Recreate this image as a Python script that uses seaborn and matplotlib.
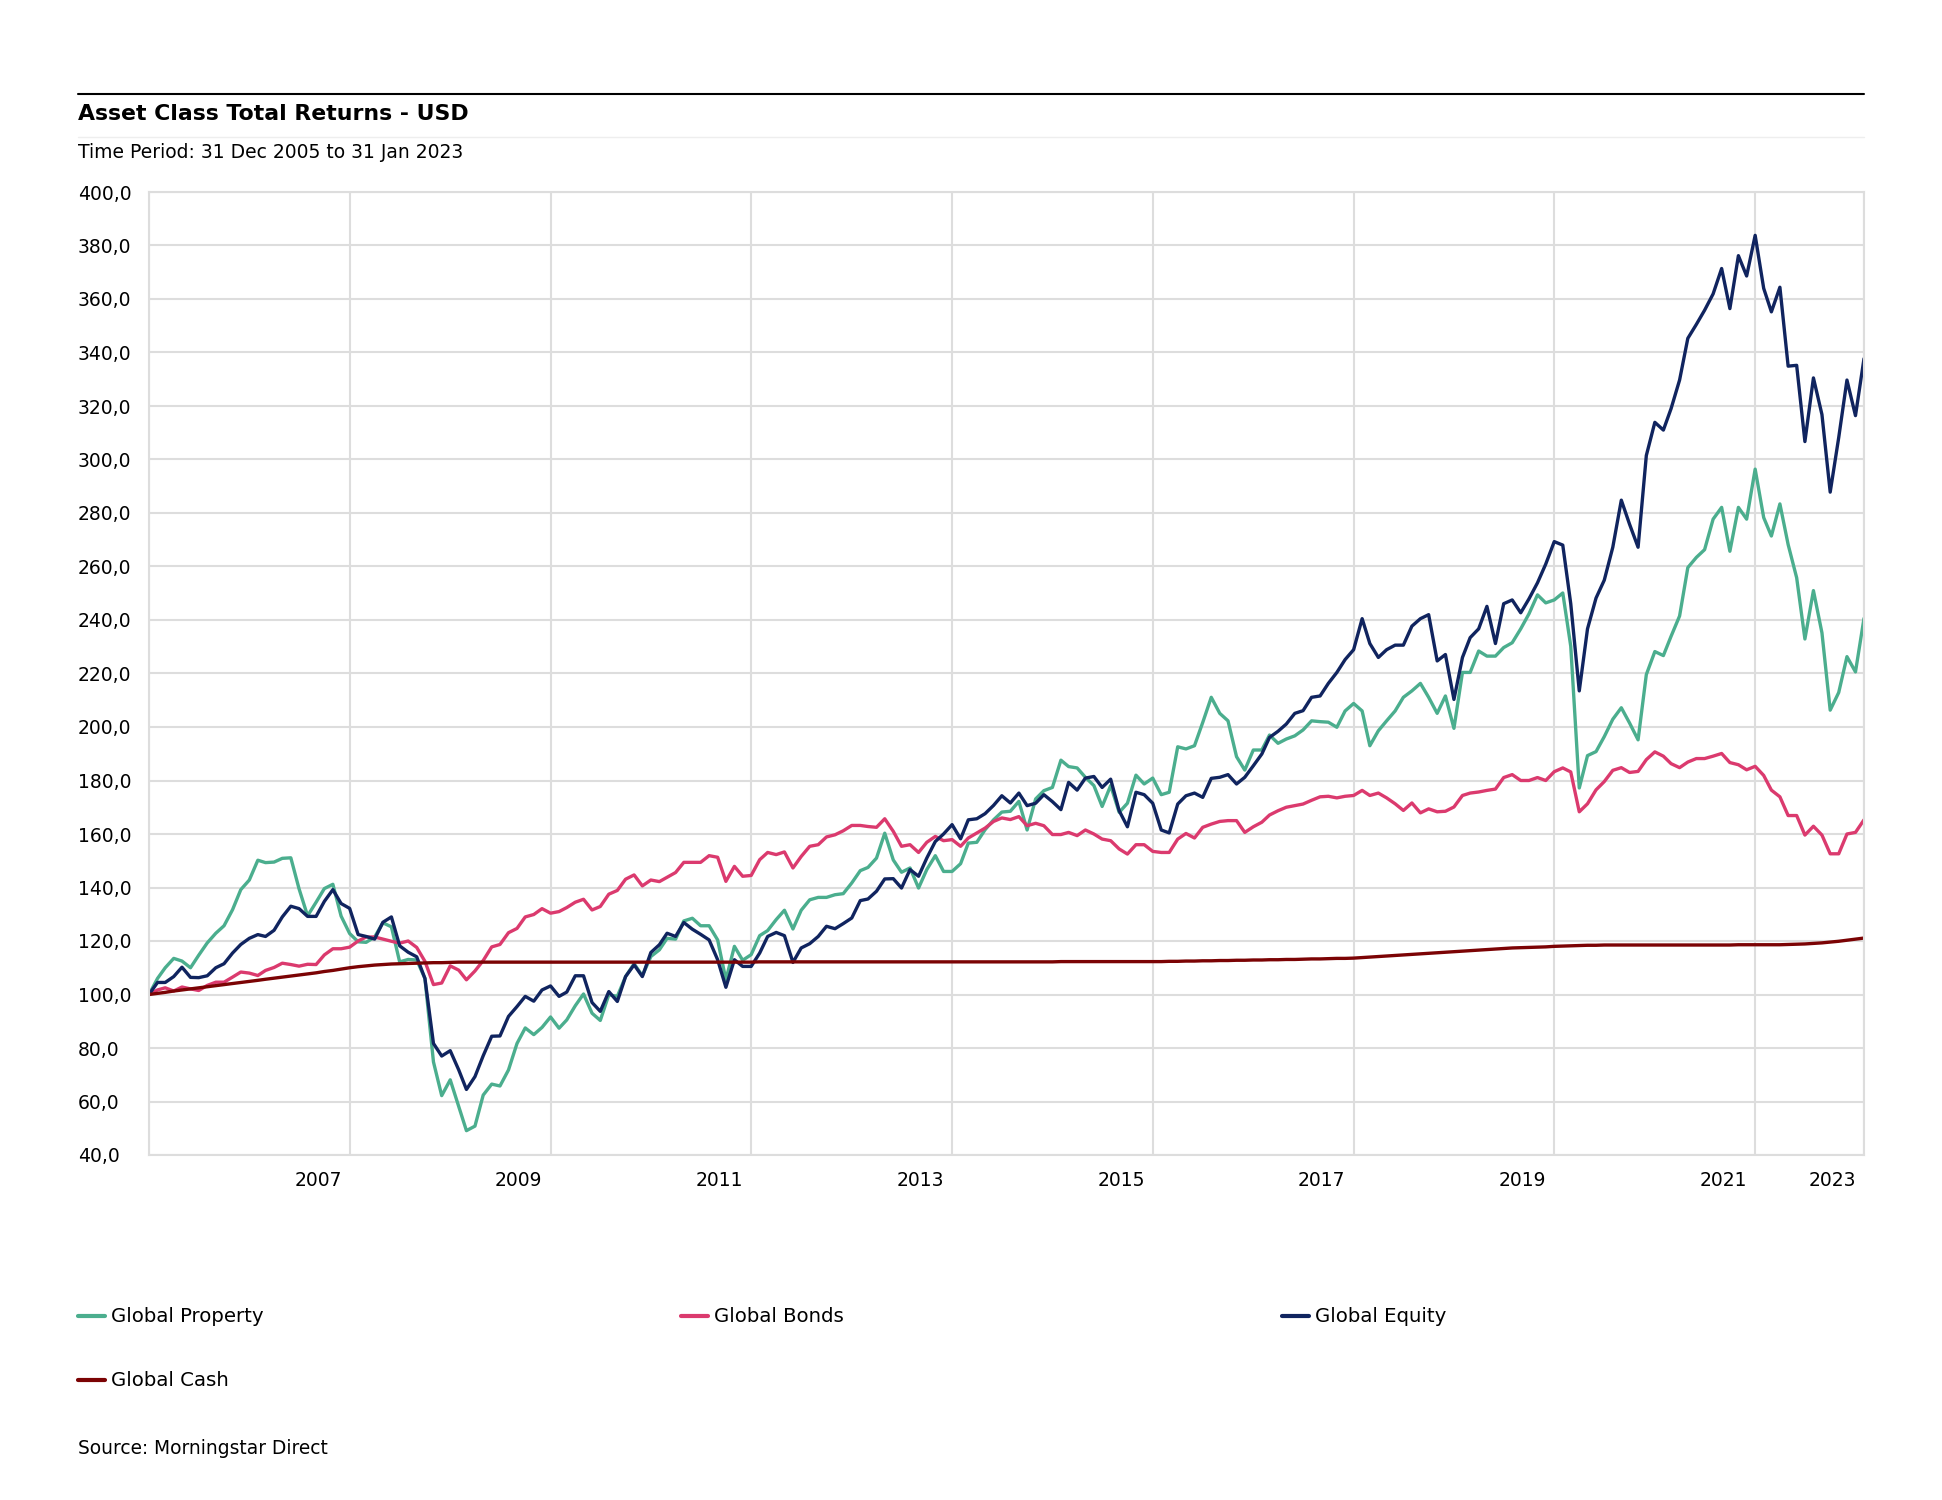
import matplotlib
matplotlib.use("Agg")
import pandas as pd
import matplotlib.pyplot as plt
import matplotlib.transforms as mtransforms
from matplotlib.lines import Line2D
from matplotlib.ticker import FuncFormatter
import seaborn as sns

# ------------------------------------------------------------------
# Data: month-end index values, 31 Dec 2005 = 100
# ------------------------------------------------------------------
series_names = ["Global Property", "Global Bonds", "Global Equity", "Global Cash"]
series_colors = ["#4BAE8E", "#DB3A6E", "#10245F", "#7B0304"]

property_vals = [
    100.0,
    106.0, 110.0, 113.5, 112.5, 110.0, 114.7, 119.3, 122.9, 125.7, 131.7, 139.2, 142.8,  # 2006
    150.2, 149.3, 149.5, 150.9, 151.1, 139.5, 129.4, 134.5, 139.6, 141.2, 129.3, 122.8,  # 2007
    119.7, 119.5, 121.5, 126.8, 125.3, 112.2, 113.1, 112.9, 106.0, 74.8, 62.2, 68.1,     # 2008
    58.1, 49.1, 50.8, 62.4, 66.5, 65.8, 71.8, 81.7, 87.5, 85.0, 87.7, 91.6,              # 2009
    87.4, 90.5, 95.8, 100.2, 93.0, 90.3, 99.9, 99.3, 106.7, 111.5, 107.0, 114.2,         # 2010
    116.7, 121.0, 120.7, 127.5, 128.5, 125.7, 125.7, 120.4, 105.5, 118.0, 112.8, 114.9,  # 2011
    122.0, 123.9, 128.0, 131.5, 124.5, 131.5, 135.4, 136.3, 136.3, 137.3, 137.7, 141.7,  # 2012
    146.3, 147.5, 151.0, 160.3, 150.3, 145.7, 147.3, 139.8, 146.7, 151.9, 146.0, 146.0,  # 2013
    148.9, 156.6, 156.9, 161.6, 165.3, 168.2, 168.5, 172.2, 161.5, 173.1, 176.2, 177.4,  # 2014
    187.6, 185.2, 184.7, 181.2, 178.1, 170.3, 178.1, 168.1, 171.5, 182.0, 178.7, 180.9,  # 2015
    174.7, 175.6, 192.6, 191.8, 193.0, 201.7, 211.1, 205.1, 202.3, 188.9, 183.9, 191.4,  # 2016
    191.4, 197.0, 193.9, 195.5, 196.7, 198.9, 202.3, 202.0, 201.8, 199.9, 206.0, 208.8,  # 2017
    206.0, 193.0, 198.6, 202.3, 206.0, 211.1, 213.5, 216.3, 211.1, 205.1, 211.6, 199.5,  # 2018
    220.4, 220.4, 228.4, 226.5, 226.5, 229.7, 231.5, 236.7, 242.3, 249.4, 246.4, 247.5,  # 2019
    250.1, 230.2, 177.2, 189.3, 190.8, 196.4, 202.9, 207.2, 201.5, 195.2, 219.6, 228.2,  # 2020
    226.7, 233.9, 241.5, 259.6, 263.4, 266.3, 277.7, 282.1, 265.7, 282.1, 277.7, 296.4,  # 2021
    278.3, 271.4, 283.4, 268.2, 255.8, 232.9, 251.0, 235.2, 206.3, 212.9, 226.3, 220.6,  # 2022
    240.6,                                                                               # 2023
]

bonds_vals = [
    100.0,
    101.7, 102.5, 101.3, 102.8, 102.1, 101.5, 103.4, 104.6, 104.6, 106.5, 108.4, 108.0,
    107.1, 109.0, 110.1, 111.7, 111.2, 110.6, 111.3, 111.2, 114.8, 117.1, 117.1, 117.7,
    120.0, 121.5, 121.5, 120.7, 119.9, 119.2, 120.0, 117.6, 112.4, 103.7, 104.3, 110.7,
    109.1, 105.5, 108.8, 112.7, 117.8, 118.7, 123.1, 124.7, 129.0, 129.9, 132.1, 130.4,
    131.0, 132.5, 134.5, 135.6, 131.6, 132.9, 137.5, 138.9, 143.1, 144.7, 140.6, 142.8,
    142.2, 143.8, 145.6, 149.4, 149.4, 149.4, 151.9, 151.3, 142.3, 147.9, 144.2, 144.5,
    150.4, 153.1, 152.3, 153.3, 147.3, 151.6, 155.4, 156.0, 158.9, 159.7, 161.2, 163.2,
    163.2, 162.8, 162.5, 165.7, 161.0, 155.4, 156.0, 153.1, 156.9, 159.1, 157.5, 157.9,
    155.4, 158.5, 160.4, 162.2, 164.7, 166.0, 165.4, 166.5, 163.1, 164.0, 163.1, 159.8,
    159.8, 160.6, 159.4, 161.5, 160.0, 158.1, 157.5, 154.4, 152.5, 156.0, 156.0, 153.5,
    153.1, 153.1, 158.1, 160.2, 158.5, 162.5, 163.7, 164.7, 165.0, 165.0, 160.6, 162.7,
    164.4, 167.1, 168.7, 170.0, 170.6, 171.2, 172.6, 173.9, 174.1, 173.5, 174.1, 174.4,
    176.3, 174.4, 175.3, 173.5, 171.3, 168.8, 171.6, 167.9, 169.4, 168.3, 168.5, 170.1,
    174.4, 175.3, 175.7, 176.3, 176.8, 181.1, 182.2, 180.0, 180.0, 181.1, 180.0, 183.3,
    184.7, 183.2, 168.3, 171.3, 176.5, 179.6, 183.8, 184.8, 183.0, 183.4, 187.8, 190.7,
    189.1, 186.3, 184.8, 186.9, 188.2, 188.2, 189.1, 190.1, 186.7, 185.9, 184.0, 185.3,
    181.9, 176.4, 173.9, 166.9, 166.9, 159.6, 162.9, 159.6, 152.6, 152.6, 160.0, 160.6,
    165.3,
]

equity_vals = [
    100.0,
    104.5, 104.5, 106.7, 110.2, 106.4, 106.3, 107.0, 110.0, 111.5, 115.5, 118.7, 121.0,
    122.4, 121.7, 124.0, 129.0, 133.0, 132.1, 129.2, 129.2, 134.8, 139.2, 134.0, 132.2,
    122.4, 121.7, 120.7, 127.0, 129.0, 118.2, 115.8, 114.1, 106.0, 81.7, 77.0, 79.0,
    71.8, 64.5, 69.3, 77.1, 84.4, 84.5, 91.8, 95.5, 99.3, 97.5, 101.7, 103.2,
    99.3, 100.9, 107.0, 107.0, 97.0, 93.7, 101.1, 97.4, 106.7, 111.1, 106.7, 115.7,
    118.6, 122.9, 121.7, 126.9, 124.4, 122.5, 120.4, 113.0, 102.7, 113.0, 110.5, 110.5,
    115.5, 121.7, 123.2, 122.0, 112.0, 117.4, 119.0, 121.7, 125.5, 124.6, 126.5, 128.6,
    135.1, 135.7, 138.6, 143.2, 143.3, 139.8, 146.7, 144.2, 151.0, 157.2, 160.0, 163.5,
    158.2, 165.3, 165.7, 167.6, 170.7, 174.3, 171.6, 175.3, 170.6, 171.5, 174.7, 172.1,
    169.1, 179.3, 176.4, 180.9, 181.5, 177.4, 180.5, 168.7, 162.7, 175.6, 174.7, 171.5,
    161.5, 160.4, 171.2, 174.3, 175.3, 173.7, 180.8, 181.2, 182.2, 178.7, 181.2, 185.5,
    189.9, 196.1, 198.4, 201.1, 205.1, 206.1, 211.1, 211.6, 216.3, 220.4, 225.2, 228.9,
    240.5, 231.2, 226.0, 228.9, 230.6, 230.6, 237.7, 240.5, 242.0, 224.7, 227.1, 210.3,
    226.0, 233.4, 236.7, 245.1, 231.2, 246.1, 247.5, 242.7, 247.9, 253.9, 260.9, 269.3,
    268.0, 246.1, 213.5, 236.7, 248.2, 254.9, 267.2, 284.8, 275.8, 267.2, 301.5, 313.9,
    311.0, 319.0, 329.7, 345.3, 350.5, 355.8, 361.9, 371.4, 356.4, 376.2, 368.6, 383.8,
    364.0, 355.2, 364.4, 334.9, 335.2, 306.7, 330.5, 316.8, 287.8, 308.2, 329.7, 316.4,
    337.7,
]

cash_vals = [
    100.0,
    100.4, 100.8, 101.3, 101.7, 102.1, 102.5, 102.9, 103.3, 103.7, 104.1, 104.5, 104.9,
    105.3, 105.7, 106.1, 106.5, 106.9, 107.3, 107.7, 108.1, 108.6, 109.0, 109.5, 110.0,
    110.4, 110.7, 111.0, 111.2, 111.4, 111.5, 111.6, 111.7, 111.8, 111.9, 111.9, 112.0,
    112.1, 112.1, 112.1, 112.1, 112.1, 112.1, 112.1, 112.1, 112.1, 112.1, 112.1, 112.1,
    112.1, 112.1, 112.1, 112.1, 112.1, 112.1, 112.1, 112.1, 112.1, 112.1, 112.1, 112.1,
    112.1, 112.1, 112.1, 112.1, 112.1, 112.1, 112.1, 112.1, 112.1, 112.1, 112.1, 112.1,
    112.2, 112.2, 112.2, 112.2, 112.2, 112.2, 112.2, 112.2, 112.2, 112.2, 112.2, 112.2,
    112.2, 112.2, 112.2, 112.2, 112.2, 112.2, 112.2, 112.2, 112.2, 112.2, 112.2, 112.2,
    112.2, 112.2, 112.2, 112.2, 112.2, 112.2, 112.2, 112.2, 112.2, 112.2, 112.2, 112.2,
    112.3, 112.3, 112.3, 112.3, 112.3, 112.3, 112.3, 112.3, 112.3, 112.3, 112.3, 112.3,
    112.3, 112.4, 112.4, 112.5, 112.5, 112.6, 112.6, 112.7, 112.7, 112.8, 112.8, 112.9,
    112.9, 113.0, 113.0, 113.1, 113.1, 113.2, 113.3, 113.3, 113.4, 113.5, 113.5, 113.6,
    113.8, 114.0, 114.2, 114.4, 114.6, 114.8, 115.0, 115.2, 115.4, 115.6, 115.8, 116.0,
    116.2, 116.4, 116.6, 116.8, 117.0, 117.2, 117.4, 117.5, 117.6, 117.7, 117.8, 118.0,
    118.1, 118.2, 118.3, 118.4, 118.4, 118.5, 118.5, 118.5, 118.5, 118.5, 118.5, 118.5,
    118.5, 118.5, 118.5, 118.5, 118.5, 118.5, 118.5, 118.5, 118.5, 118.6, 118.6, 118.6,
    118.6, 118.6, 118.6, 118.7, 118.8, 118.9, 119.1, 119.3, 119.6, 119.9, 120.3, 120.7,
    121.1,
]

y_ticks = list(range(40, 401, 20))
x_tick_dates = ["2005-12-31", "2007-12-31", "2009-12-31", "2011-12-31", "2013-12-31",
                "2015-12-31", "2017-12-31", "2019-12-31", "2021-12-31", "2023-01-31"]
x_tick_labels = ["", "2007", "2009", "2011", "2013", "2015", "2017", "2019", "2021", "2023"]

# ------------------------------------------------------------------
try:
    dates = pd.date_range("2005-12-31", "2023-01-31", freq="ME")
except ValueError:
    dates = pd.date_range("2005-12-31", "2023-01-31", freq="M")

all_vals = [property_vals, bonds_vals, equity_vals, cash_vals]
frames = []
for name, vals in zip(series_names, all_vals):
    assert len(vals) == len(dates), (name, len(vals))
    frames.append(pd.DataFrame({"date": dates, "value": vals, "series": name}))
df = pd.concat(frames, ignore_index=True)

W, H, DPI = 1942, 1500, 100
GRID = "#dddddd"

sns.set_theme(style="white")
plt.rcParams["font.family"] = ["DejaVu Sans"]
plt.rcParams["text.color"] = "black"
plt.rcParams["axes.labelcolor"] = "black"
plt.rcParams["xtick.color"] = "black"
plt.rcParams["ytick.color"] = "black"

fig = plt.figure(figsize=(W / DPI, H / DPI), dpi=DPI)
fig.patch.set_facecolor("white")

ax_left, ax_right, ax_top, ax_bottom = 149, 1864, 192, 1155
ax = fig.add_axes([ax_left / W, 1 - ax_bottom / H, (ax_right - ax_left) / W, (ax_bottom - ax_top) / H])

sns.lineplot(data=df, x="date", y="value", hue="series", hue_order=series_names,
             palette=dict(zip(series_names, series_colors)), linewidth=2.4,
             legend=False, ax=ax)

ax.set_xlim(dates[0], dates[-1])
ax.set_ylim(40, 400)
ax.set_yticks(y_ticks)
ax.yaxis.set_major_formatter(FuncFormatter(lambda v, p: f"{v:.1f}".replace(".", ",")))
ax.set_xticks(pd.to_datetime(x_tick_dates))
ax.set_xticklabels(x_tick_labels)
ax.set_xlabel("")
ax.set_ylabel("")

ax.grid(True, color=GRID, linewidth=1.5)
ax.set_axisbelow(True)
for sp in ax.spines.values():
    sp.set_color(GRID)
    sp.set_linewidth(1.5)

tick_len = 9.4
ax.tick_params(axis="both", length=tick_len, width=1.5, color=GRID,
               labelsize=13.5, labelcolor="black")
ax.tick_params(axis="x", pad=2)
ax.tick_params(axis="y", pad=(ax_left - 78) / DPI * 72 - tick_len)

for lab in ax.get_yticklabels():
    lab.set_horizontalalignment("left")

shift = mtransforms.ScaledTranslation(-8 / DPI, 0, fig.dpi_scale_trans)
for lab in ax.get_xticklabels():
    lab.set_horizontalalignment("right")
    lab.set_transform(lab.get_transform() + shift)


def fx(x):
    return x / W


def fy(y):
    return 1 - y / H


# header
fig.add_artist(Line2D([fx(78), fx(1864)], [fy(94), fy(94)], color="black", linewidth=1.5))
fig.text(fx(78), fy(114), "Asset Class Total Returns - USD", fontsize=15.8,
         fontweight="bold", va="center", ha="left", color="black")
fig.add_artist(Line2D([fx(78), fx(1864)], [fy(137), fy(137)], color="#eeeeee", linewidth=1.0))
fig.text(fx(78), fy(152), "Time Period: 31 Dec 2005 to 31 Jan 2023", fontsize=13.5,
         va="center", ha="left", color="black")

# legend
legend_pos = [(78, 1316), (681, 1316), (1282, 1316), (78, 1380)]
for (lx, ly), name, col in zip(legend_pos, series_names, series_colors):
    fig.add_artist(Line2D([fx(lx), fx(lx + 27)], [fy(ly), fy(ly)], color=col, linewidth=3.0))
    fig.text(fx(lx + 33), fy(ly), name, fontsize=14.2, va="center", ha="left", color="black")

fig.text(fx(78), fy(1449), "Source: Morningstar Direct", fontsize=13.4, va="center",
         ha="left", color="black")

fig.savefig("out.png", dpi=DPI, facecolor="white")
